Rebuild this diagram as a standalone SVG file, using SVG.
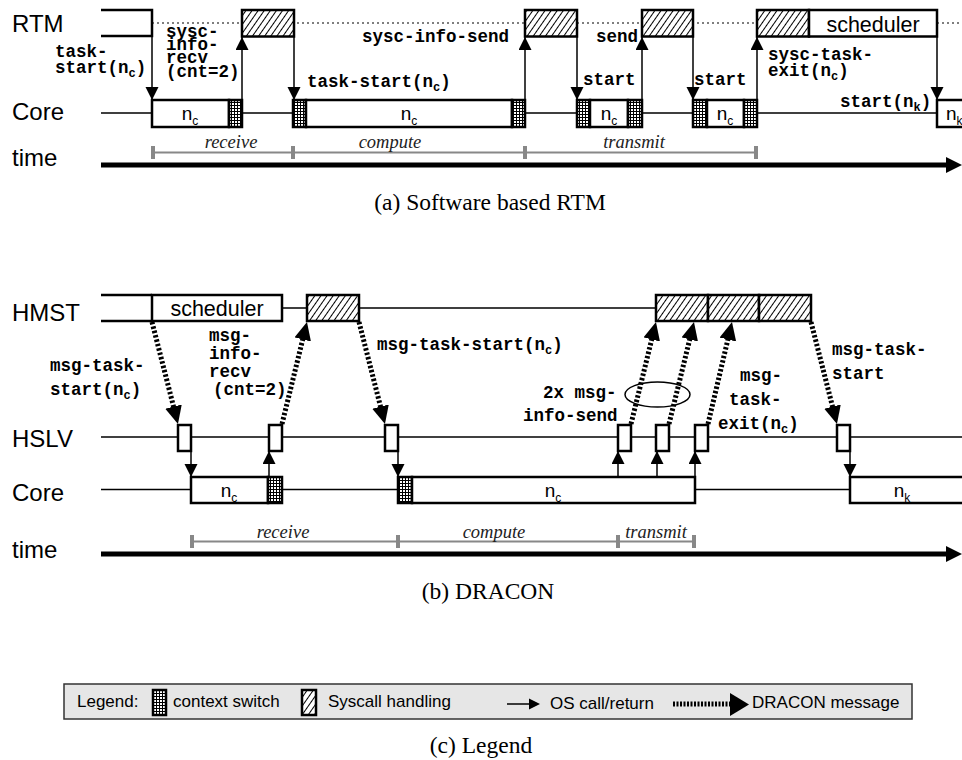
<svg xmlns="http://www.w3.org/2000/svg" width="962" height="760" viewBox="0 0 962 760">
<style>
.lbl{font-family:"Liberation Sans",Arial,sans-serif;font-size:24px;fill:#000}
.box{stroke:#000;stroke-width:2.5;fill:#fff}
.hat{stroke:#000;stroke-width:2.5;fill:url(#hatch)}
.cs{stroke:#000;stroke-width:2.5;fill:url(#grid)}
.ln{stroke:#000;stroke-width:1.5;fill:none}
.thk{stroke:#000;stroke-width:2.5;fill:none}
.os{stroke:#000;stroke-width:1.5;fill:none;marker-end:url(#ah)}
.dm{stroke:#000;stroke-width:5;stroke-dasharray:2.5 2;fill:none;marker-end:url(#dh)}
.mono{font-family:"Liberation Mono","Courier New",monospace;font-weight:bold;font-size:17.5px;fill:#000}
.sub{font-size:12px}
.nn{font-family:"Liberation Sans",Arial,sans-serif;font-size:19px;fill:#000}
.sched{font-family:"Liberation Sans",Arial,sans-serif;font-size:21.5px;fill:#000}
.iv{stroke:#888;stroke-width:2;fill:none}
.tick{stroke:#888;stroke-width:4;fill:none}
.ivt{font-family:"Liberation Serif","Times New Roman",serif;font-style:italic;font-size:18.5px;fill:#222}
.cap{font-family:"Liberation Serif","Times New Roman",serif;font-size:23.5px;fill:#000}
.leg{font-family:"Liberation Sans",Arial,sans-serif;font-size:17px;fill:#000}
</style>
<defs>
<pattern id="hatch" patternUnits="userSpaceOnUse" width="5" height="10" patternTransform="rotate(35)">
<rect width="5" height="10" fill="#fff"/>
<line x1="2.5" y1="0" x2="2.5" y2="10" stroke="#000" stroke-width="1"/>
</pattern>
<pattern id="grid" patternUnits="userSpaceOnUse" width="3" height="3">
<rect width="3" height="3" fill="#fff"/>
<path d="M0,0.5H3M0.5,0V3" stroke="#000" stroke-width="1"/>
</pattern>
<marker id="ah" markerUnits="userSpaceOnUse" markerWidth="14" markerHeight="14" refX="13" refY="6.5" orient="auto">
<path d="M0,0L13,6.5L0,13z" fill="#000"/>
</marker>
<marker id="dh" markerUnits="userSpaceOnUse" markerWidth="20" markerHeight="18" refX="8" refY="8.5" orient="auto">
<path d="M0,0L18,8.5L0,17z" fill="#000"/>
</marker>
</defs>
<rect width="962" height="760" fill="#fff"/>

<!-- ===== (a) Software based RTM ===== -->
<g id="lane-labels-a">
<text class="lbl" x="12" y="32">RTM</text>
<text class="lbl" x="12" y="120">Core</text>
<text class="lbl" x="12" y="166">time</text>
</g>

<g id="rtm-lane">
<line x1="152" y1="23" x2="962" y2="23" stroke="#000" stroke-width="1.2" stroke-dasharray="2 3"/>
<path class="thk" d="M101,10H152V36H101"/>
<rect id="rtm-sys1" class="hat" x="242" y="10" width="52" height="26.5"/>
<rect id="rtm-sys2" class="hat" x="525" y="10" width="52" height="26.5"/>
<rect id="rtm-sys3" class="hat" x="642" y="10" width="51" height="26.5"/>
<rect id="rtm-sys4" class="hat" x="757" y="10" width="52" height="26.5"/>
<g id="rtm-scheduler">
<rect class="box" x="809" y="10" width="128" height="26.5"/>
<text class="sched" x="873" y="32" text-anchor="middle">scheduler</text>
</g>
</g>

<g id="core-lane-a">
<path class="ln" d="M101,113H152M242,113H293M525,113H577M642,113H693M757,113H937"/>
<g id="core-a1">
<rect class="box" x="152" y="100" width="77" height="27"/>
<rect class="cs" x="229" y="100" width="13" height="27"/>
<text class="nn" x="190" y="120" text-anchor="middle">n<tspan class="sub" dy="5">c</tspan></text>
</g>
<g id="core-a2">
<rect class="cs" x="293" y="100" width="13" height="27"/>
<rect class="box" x="306" y="100" width="206" height="27"/>
<rect class="cs" x="512" y="100" width="13" height="27"/>
<text class="nn" x="409" y="120" text-anchor="middle">n<tspan class="sub" dy="5">c</tspan></text>
</g>
<g id="core-a3">
<rect class="cs" x="577" y="100" width="13" height="27"/>
<rect class="box" x="590" y="100" width="38" height="27"/>
<rect class="cs" x="628" y="100" width="14" height="27"/>
<text class="nn" x="609" y="120" text-anchor="middle">n<tspan class="sub" dy="5">c</tspan></text>
</g>
<g id="core-a4">
<rect class="cs" x="693" y="100" width="14" height="27"/>
<rect class="box" x="707" y="100" width="37" height="27"/>
<rect class="cs" x="744" y="100" width="13" height="27"/>
<text class="nn" x="725" y="120" text-anchor="middle">n<tspan class="sub" dy="5">c</tspan></text>
</g>
<g id="core-a5">
<rect class="box" x="937" y="100" width="40" height="27"/>
<text class="nn" x="946" y="120">n<tspan class="sub" dy="5">k</tspan></text>
</g>
</g>

<g id="time-a">
<path class="iv" d="M152,152.5H757"/>
<path class="tick" d="M153,146V159M293,146V159M525,146V159M756,146V159"/>
<text class="ivt" x="231" y="148" text-anchor="middle">receive</text>
<text class="ivt" x="390" y="148" text-anchor="middle">compute</text>
<text class="ivt" x="634" y="148" text-anchor="middle">transmit</text>
<line x1="101" y1="165" x2="950" y2="165" stroke="#000" stroke-width="5"/>
<path d="M946,157L962,165L946,173z" fill="#000"/>
</g>

<g id="connectors-a">
<line class="os" x1="152" y1="36" x2="152" y2="100"/>
<line class="os" x1="242" y1="100" x2="242" y2="37"/>
<line class="os" x1="294" y1="37" x2="294" y2="100"/>
<line class="os" x1="525" y1="100" x2="525" y2="37"/>
<line class="os" x1="577" y1="37" x2="577" y2="100"/>
<line class="os" x1="642" y1="100" x2="642" y2="37"/>
<line class="os" x1="693" y1="37" x2="693" y2="100"/>
<line class="os" x1="757" y1="100" x2="757" y2="37"/>
<line class="os" x1="937" y1="37" x2="937" y2="100"/>
</g>

<g id="labels-a">
<text class="mono" x="55" y="57">task-</text>
<text class="mono" x="55" y="73">start(n<tspan class="sub" dy="4">c</tspan><tspan dy="-4">)</tspan></text>
<text class="mono" x="166" y="37">sysc-</text>
<text class="mono" x="166" y="50">info-</text>
<text class="mono" x="166" y="63">recv</text>
<text class="mono" x="166" y="77">(cnt=2)</text>
<text class="mono" x="307" y="87">task-start(n<tspan class="sub" dy="4">c</tspan><tspan dy="-4">)</tspan></text>
<text class="mono" x="362" y="42">sysc-info-send</text>
<text class="mono" x="596" y="42">send</text>
<text class="mono" x="583" y="85">start</text>
<text class="mono" x="694" y="85">start</text>
<text class="mono" x="768" y="60">sysc-task-</text>
<text class="mono" x="768" y="76">exit(n<tspan class="sub" dy="4">c</tspan><tspan dy="-4">)</tspan></text>
<text class="mono" x="840" y="107">start(n<tspan class="sub" dy="4">k</tspan><tspan dy="-4">)</tspan></text>
</g>

<text class="cap" x="490" y="210" text-anchor="middle">(a) Software based RTM</text>

<!-- ===== (b) DRACON ===== -->
<g id="lane-labels-b">
<text class="lbl" x="12" y="321">HMST</text>
<text class="lbl" x="12" y="447">HSLV</text>
<text class="lbl" x="12" y="501">Core</text>
<text class="lbl" x="12" y="558">time</text>
</g>

<g id="hmst-lane">
<path class="thk" d="M101,295H152M101,321H152"/>
<path class="ln" d="M282,308H307M359,308H656"/>
<g id="hmst-scheduler">
<rect class="box" x="152" y="295" width="130" height="26"/>
<text class="sched" x="217" y="316" text-anchor="middle">scheduler</text>
</g>
<rect id="hmst-sys1" class="hat" x="307" y="295" width="52" height="26"/>
<rect id="hmst-sys2" class="hat" x="656" y="295" width="52" height="26"/>
<rect id="hmst-sys3" class="hat" x="708" y="295" width="51" height="26"/>
<rect id="hmst-sys4" class="hat" x="759" y="295" width="52" height="26"/>
</g>

<g id="hslv-lane">
<line class="ln" x1="101" y1="437" x2="962" y2="437"/>
<rect id="hslv1" class="box" x="178" y="425" width="13" height="26"/>
<rect id="hslv2" class="box" x="269" y="425" width="13" height="26"/>
<rect id="hslv3" class="box" x="385" y="425" width="13" height="26"/>
<rect id="hslv4" class="box" x="618" y="425" width="13" height="26"/>
<rect id="hslv5" class="box" x="656" y="425" width="13" height="26"/>
<rect id="hslv6" class="box" x="695" y="425" width="13" height="26"/>
<rect id="hslv7" class="box" x="837" y="425" width="13" height="26"/>
</g>

<g id="core-lane-b">
<path class="ln" d="M101,489.5H191M282,489.5H398M695,489.5H850"/>
<g id="core-b1">
<rect class="box" x="191" y="477" width="77" height="26"/>
<rect class="cs" x="268" y="477" width="14" height="26"/>
<text class="nn" x="229" y="497" text-anchor="middle">n<tspan class="sub" dy="5">c</tspan></text>
</g>
<g id="core-b2">
<rect class="cs" x="398" y="477" width="14" height="26"/>
<rect class="box" x="412" y="477" width="283" height="26"/>
<text class="nn" x="553" y="497" text-anchor="middle">n<tspan class="sub" dy="5">c</tspan></text>
</g>
<g id="core-b3">
<rect class="box" x="850" y="477" width="130" height="26"/>
<text class="nn" x="902" y="497" text-anchor="middle">n<tspan class="sub" dy="5">k</tspan></text>
</g>
</g>

<g id="time-b">
<path class="iv" d="M191,541.5H695"/>
<path class="tick" d="M192,535V548M398,535V548M618,535V548M694,535V548"/>
<text class="ivt" x="283" y="538" text-anchor="middle">receive</text>
<text class="ivt" x="494" y="538" text-anchor="middle">compute</text>
<text class="ivt" x="656" y="538" text-anchor="middle">transmit</text>
<line x1="101" y1="554" x2="950" y2="554" stroke="#000" stroke-width="5"/>
<path d="M946,546L962,554L946,562z" fill="#000"/>
</g>

<g id="connectors-b">
<line class="os" x1="191" y1="451" x2="191" y2="477"/>
<line class="os" x1="269" y1="477" x2="269" y2="451"/>
<line class="os" x1="398" y1="451" x2="398" y2="477"/>
<line class="os" x1="618" y1="477" x2="618" y2="451"/>
<line class="os" x1="657" y1="477" x2="657" y2="451"/>
<line class="os" x1="695" y1="477" x2="695" y2="451"/>
<line class="os" x1="850" y1="451" x2="850" y2="477"/>
<path class="dm" d="M152,322L175.5,414.3"/>
<path class="dm" d="M282,424L304.6,331.7"/>
<path class="dm" d="M359,322L382.5,414.3"/>
<path class="dm" d="M631,424L653.6,331.7"/>
<path class="dm" d="M669,424L691.6,331.7"/>
<path class="dm" d="M708,424L729.7,331.7"/>
<path class="dm" d="M811,322L834.5,414.3"/>
<ellipse class="ln" cx="657.5" cy="394.5" rx="32.5" ry="12.5"/>
</g>

<g id="labels-b">
<text class="mono" x="50" y="371">msg-task-</text>
<text class="mono" x="50" y="395">start(n<tspan class="sub" dy="4">c</tspan><tspan dy="-4">)</tspan></text>
<text class="mono" x="209" y="341">msg-</text>
<text class="mono" x="209" y="359">info-</text>
<text class="mono" x="209" y="377">recv</text>
<text class="mono" x="213" y="395">(cnt=2)</text>
<text class="mono" x="377" y="350">msg-task-start(n<tspan class="sub" dy="4">c</tspan><tspan dy="-4">)</tspan></text>
<text class="mono" x="543" y="398">2x msg-</text>
<text class="mono" x="523" y="421">info-send</text>
<text class="mono" x="740" y="381">msg-</text>
<text class="mono" x="729" y="405">task-</text>
<text class="mono" x="718" y="429">exit(n<tspan class="sub" dy="4">c</tspan><tspan dy="-4">)</tspan></text>
<text class="mono" x="832" y="355">msg-task-</text>
<text class="mono" x="832" y="379">start</text>
</g>

<text class="cap" x="488" y="599" text-anchor="middle">(b) DRACON</text>

<!-- ===== (c) Legend ===== -->
<g id="legend">
<rect x="64" y="684" width="848" height="35" fill="#e6e6e6" stroke="#333" stroke-width="1.5"/>
<text class="leg" x="77" y="707">Legend:</text>
<rect class="cs" x="153" y="690" width="13" height="25"/>
<text class="leg" x="173" y="707">context switch</text>
<rect class="hat" x="302" y="690" width="14" height="25"/>
<text class="leg" x="328" y="707">Syscall handling</text>
<line x1="507" y1="704" x2="531" y2="704" stroke="#000" stroke-width="1.5"/>
<path d="M529,698.5L540,704L529,709.5z" fill="#000"/>
<text class="leg" x="550" y="709">OS call/return</text>
<line x1="673" y1="704" x2="732" y2="704" stroke="#000" stroke-width="5" stroke-dasharray="2 1.5"/>
<path d="M730,693L749,704.5L730,716z" fill="#000"/>
<text class="leg" x="752" y="708">DRACON message</text>
</g>

<text class="cap" x="481" y="753" text-anchor="middle">(c) Legend</text>
</svg>
